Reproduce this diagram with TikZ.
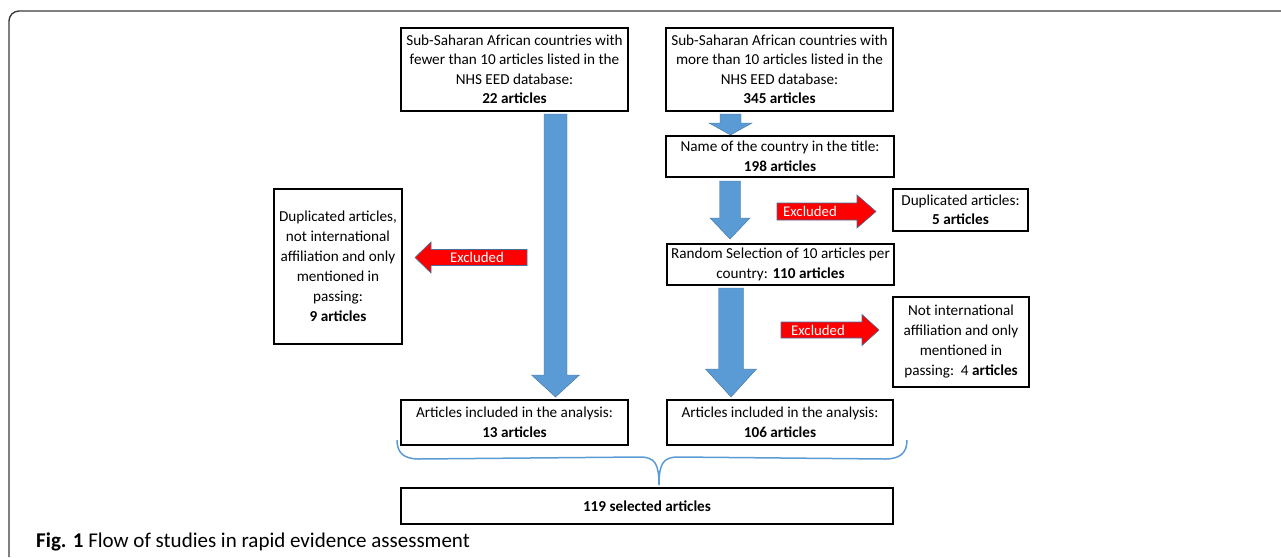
\documentclass[tikz,border=0pt]{standalone}
\usepackage{fontspec}
\setmainfont{Carlito}
\usetikzlibrary{calc}
\definecolor{bluefill}{HTML}{5B9BD5}
\definecolor{blueline}{HTML}{41719C}
\definecolor{redfill}{HTML}{FF0000}
\definecolor{framecol}{HTML}{3A3A3A}
\newcommand{\blockdown}[6]{%
  \draw[blockblue] let \p1=#2, \p2=#3 in
  (#1pt-#4pt,\y1) -- (#1pt+#4pt,\y1) -- (#1pt+#4pt,\y2+#6pt) -- (#1pt+#5pt,\y2+#6pt)
  -- (#1pt,\y2) -- (#1pt-#5pt,\y2+#6pt) -- (#1pt-#4pt,\y2+#6pt) -- cycle;}
\newcommand{\exclright}[7]{%
  \draw[blockred] let \p1=($(#2.west)+(-#3,0)$), \p2=(#1,#4) in
  (\x2,\y2+#5pt) -- (\x1-#7pt,\y2+#5pt) -- (\x1-#7pt,\y2+#6pt) -- (\x1,\y2)
  -- (\x1-#7pt,\y2-#6pt) -- (\x1-#7pt,\y2-#5pt) -- (\x2,\y2-#5pt) -- cycle;}
\newcommand{\exclleft}[7]{%
  \draw[blockred] let \p1=($(#2.east)+(#3,0)$), \p2=(#1,#4) in
  (\x2,\y2+#5pt) -- (\x1+#7pt,\y2+#5pt) -- (\x1+#7pt,\y2+#6pt) -- (\x1,\y2)
  -- (\x1+#7pt,\y2-#6pt) -- (\x1+#7pt,\y2-#5pt) -- (\x2,\y2-#5pt) -- cycle;}
\begin{document}
\begin{tikzpicture}[x=1pt,y=-1pt,
  box/.style={draw=black, line width=2pt, inner sep=0pt, align=center,
    font=\fontsize{15.2}{19.5}\selectfont},
  blockblue/.style={fill=bluefill, draw=blueline, line width=0.4pt},
  blockred/.style={fill=redfill, draw=blueline, line width=0.6pt},
  exlabel/.style={text=white, font=\fontsize{14.8}{16}\selectfont, inner sep=0pt},
  bracketline/.style={draw=bluefill, line width=1.5pt}]
\useasboundingbox (0,0) rectangle (1281,557);
\draw[framecol, line width=1.4pt, rounded corners=10pt] (9,557) -- (9,11) -- (1281,11);

% boxes
\node[box, minimum width=227pt, minimum height=83pt] (b1) at (514.5,69.5)
  {Sub-Saharan African countries with\\fewer than 10 articles listed in the\\NHS EED database:\\\textbf{22 articles}};
\node[box, minimum width=227pt, minimum height=83pt] (b2) at (779.5,69.5)
  {Sub-Saharan African countries with\\more than 10 articles listed in the\\NHS EED database:\\\textbf{345 articles}};
\node[box, minimum width=228pt, minimum height=41pt] (name) at (780,156.5)
  {Name of the country in the title:\\\textbf{198 articles}};
\node[box, minimum width=227pt, minimum height=41pt] (rand) at (780.5,264.5)
  {Random Selection of 10 articles per\\country: \textbf{110 articles}};
\node[box, minimum width=128pt, minimum height=155pt, font=\fontsize{15.2}{20}\selectfont] (dup9) at (338,266.5)
  {Duplicated articles,\\not international\\affiliation and only\\mentioned in\\passing:\\\textbf{9 articles}};
\node[box, minimum width=135pt, minimum height=42pt] (dup5) at (960.5,210)
  {Duplicated articles:\\\textbf{5 articles}};
\node[box, minimum width=136pt, minimum height=90pt, font=\fontsize{15.2}{20}\selectfont] (notint) at (961,342)
  {Not international\\affiliation and only\\mentioned in\\passing:\ \ 4 \textbf{articles}};
\node[box, minimum width=227pt, minimum height=45pt] (inc1) at (514.5,422.5)
  {Articles included in the analysis:\\\textbf{13 articles}};
\node[box, minimum width=226pt, minimum height=45pt] (inc2) at (780,422.5)
  {Articles included in the analysis:\\\textbf{106 articles}};
\node[box, minimum width=492pt, minimum height=36pt] (total) at (647,506)
  {\textbf{119 selected articles}};

% blue block arrows
\blockdown{555.5}{($(b1.south)+(0,2)$)}{($(inc1.north)+(0,-2)$)}{11.5}{24}{22}
\blockdown{730.5}{($(b2.south)+(0,2)$)}{($(name.north)+(0,0)$)}{10.5}{21.5}{12}
\blockdown{730}{($(name.south)+(0,3)$)}{($(rand.north)+(0,-4)$)}{10.5}{20}{21}
\blockdown{731}{($(rand.south)+(0,2)$)}{($(inc2.north)+(0,-2)$)}{12.5}{25.5}{28}

% red excluded arrows
\exclright{777}{dup5}{16}{211.5}{8.5}{16.5}{19}
\node[exlabel] (ex1) at (810,211.5) {Excluded};
\exclright{781}{notint}{13}{330}{8}{15.5}{17}
\node[exlabel] (ex2) at (818,330) {Excluded};
\exclleft{527}{dup9}{12}{257.5}{8}{15.5}{16}
\node[exlabel] (ex3) at (477,257.5) {Excluded};

% brace
\coordinate (brL) at ($(inc1.south west)+(-3,-6)$);
\coordinate (brR) at ($(inc2.south east)+(13,-6)$);
\coordinate (brM) at ($(total.north)+(12,-2)$);
\draw[bracketline] (brL) .. controls ($(brL)+(0,13)$) and ($(brL)+(7,19)$) .. ($(brL)+(22,19)$)
  -- ($(brM)+(-19,-28)$) .. controls ($(brM)+(-4,-28)$) and ($(brM)+(0,-21)$) .. (brM)
  .. controls ($(brM)+(0,-21)$) and ($(brM)+(4,-28)$) .. ($(brM)+(19,-28)$)
  -- ($(brR)+(-22,19)$) .. controls ($(brR)+(-7,19)$) and ($(brR)+(0,13)$) .. (brR);

% caption
\node[anchor=base west, inner sep=0pt, font=\fontsize{21}{24}\selectfont] (cap) at (36,547)
  {\textbf{Fig. 1} Flow of studies in rapid evidence assessment};
\end{tikzpicture}
\end{document}
